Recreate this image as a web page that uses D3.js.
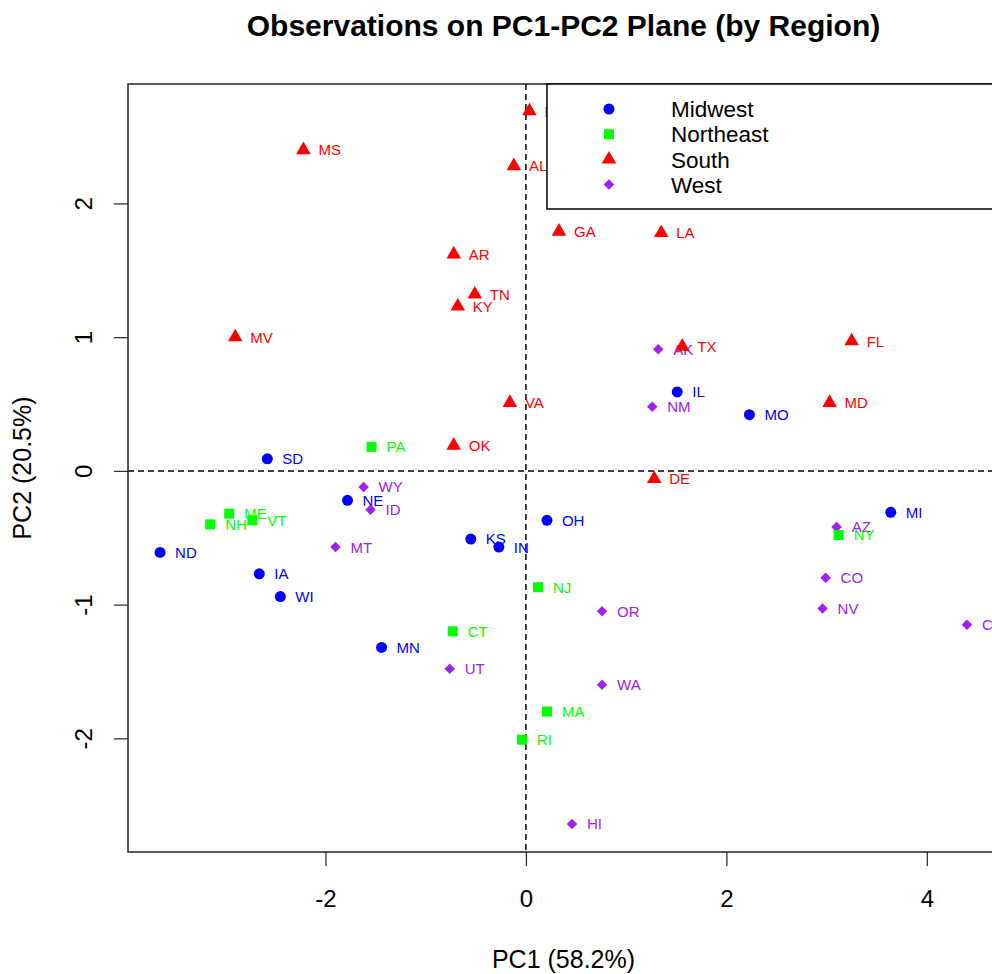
<!DOCTYPE html>
<html>
<head>
<meta charset="utf-8">
<script src="https://cdn.jsdelivr.net/npm/d3@7"></script>
<style>
  body { margin: 0; background: #fff; }
  svg { font-family: "Liberation Sans", Arial, sans-serif; display: block; }
</style>
</head>
<body>
<div id="plot"></div>
<script>
// data, states in row order (alphabetical by state name)
const states = ["AL","AK","AZ","AR","CA","CO","CT","DE","FL","GA","HI","ID","IL","IN","IA","KS","KY","LA","ME","MD",
  "MA","MI","MN","MS","MO","MT","NE","NV","NH","NJ","NM","NY","NC","ND","OH","OK","OR","PA","RI","SD",
  "TN","TX","UT","VT","VA","WA","MV","WI","WY"];
const pc1 = [-0.12, 1.32, 3.10, -0.72, 4.40, 2.99, -0.73, 1.28, 3.25, 0.33, 0.46, -1.55, 1.51, -0.27, -2.66, -0.55, -0.68, 1.35, -2.96, 3.03,
  0.21, 3.64, -1.44, -2.22, 2.23, -1.90, -1.78, 2.96, -3.15, 0.12, 1.26, 3.12, 0.035, -3.65, 0.21, -0.72, 0.76, -1.54, -0.04, -2.58,
  -0.51, 1.56, -0.76, -2.73, -0.16, 0.76, -2.90, -2.45, -1.62];
const pc2 = [2.28, 0.91, -0.42, 1.62, -1.15, -0.80, -1.20, -0.06, 0.97, 1.79, -2.64, -0.29, 0.59, -0.57, -0.77, -0.51, 1.23, 1.78, -0.32, 0.51,
  -1.80, -0.31, -1.32, 2.40, 0.42, -0.57, -0.22, -1.03, -0.40, -0.87, 0.48, -0.48, 2.69, -0.61, -0.37, 0.19, -1.05, 0.18, -2.01, 0.09,
  1.32, 0.93, -1.48, -0.37, 0.51, -1.60, 1.00, -0.94, -0.12];
const region = ["South","West","West","South","West","West","Northeast","South","South","South","West","West","Midwest","Midwest","Midwest","Midwest","South","South","Northeast","South",
  "Northeast","Midwest","Midwest","South","Midwest","West","Midwest","West","Northeast","Northeast","West","Northeast","South","Midwest","Midwest","South","West","Northeast","Northeast","Midwest",
  "South","South","West","Northeast","South","West","South","Midwest","West"];

const regions = ["Midwest", "Northeast", "South", "West"];
const xTicks = [-2, 0, 2, 4];
const yTicks = [-2, -1, 0, 1, 2];

const data = states.map((s, i) => ({ state: s, pc1: pc1[i], pc2: pc2[i], region: region[i] }));

// layout
const W = 992, H = 974;
const margin = { top: 84, right: -7, bottom: 122, left: 128 };
const width = W - margin.left - margin.right,
      height = H - margin.top - margin.bottom;

const svg = d3.select("#plot").append("svg")
    .attr("width", W)
    .attr("height", H);

const g = svg.append("g")
    .attr("transform", `translate(${margin.left},${margin.top})`);

const x = d3.scaleLinear().domain([-3.97, 4.72]).range([0, width]);
const y = d3.scaleLinear().domain([-2.85, 2.893]).range([height, 0]);

const color = d3.scaleOrdinal().domain(regions).range(["#0000FF", "#00FF00", "#FF0000", "#A020F0"]);

// marker shapes like R pch 16, 15, 17, 18
const shape = {
  Midwest: d3.symbol().type(d3.symbolCircle).size(95)(),
  Northeast: d3.symbol().type(d3.symbolSquare).size(100)(),
  South: d3.symbol().type(d3.symbolTriangle).size(92)(),
  West: d3.symbol().type(d3.symbolSquare).size(55)()
};
const rot = r => r === "West" ? " rotate(45)" : "";

// reference lines
g.append("line")
    .attr("x1", x(0)).attr("x2", x(0))
    .attr("y1", 0).attr("y2", height)
    .attr("stroke", "#000").attr("stroke-width", 1.5).attr("stroke-dasharray", "6,4");
g.append("line")
    .attr("x1", 0).attr("x2", width)
    .attr("y1", y(0)).attr("y2", y(0))
    .attr("stroke", "#000").attr("stroke-width", 1.5).attr("stroke-dasharray", "6,4");

// labels first, then points on top
g.selectAll(".lab")
  .data(data)
  .enter().append("text")
    .attr("class", "lab")
    .attr("x", d => x(d.pc1) + 15)
    .attr("y", d => y(d.pc2))
    .attr("dy", "0.36em")
    .attr("fill", d => color(d.region))
    .style("font-size", "15px")
    .text(d => d.state);

g.selectAll(".pt")
  .data(data)
  .enter().append("path")
    .attr("class", "pt")
    .attr("d", d => shape[d.region])
    .attr("transform", d => `translate(${x(d.pc1)},${y(d.pc2)})` + rot(d.region))
    .attr("fill", d => color(d.region));

// axes (hyphen minus like R)
const fmt = d => String(d);
const xAxis = g.append("g")
    .attr("transform", `translate(0,${height})`)
    .call(d3.axisBottom(x).tickValues(xTicks).tickSize(14).tickPadding(24).tickFormat(fmt));
xAxis.select(".domain").remove();
xAxis.selectAll("text").style("font-size", "24px").attr("fill", "#000");
xAxis.selectAll("line").attr("stroke", "#333").attr("stroke-width", 1.3);

const yAxis = g.append("g")
    .call(d3.axisLeft(y).tickValues(yTicks).tickSize(14).tickFormat(fmt));
yAxis.select(".domain").remove();
yAxis.selectAll("line").attr("stroke", "#333").attr("stroke-width", 1.3);
yAxis.selectAll("text")
    .attr("transform", "rotate(-90)")
    .attr("x", 0).attr("y", -36).attr("dy", 0)
    .attr("text-anchor", "middle")
    .attr("fill", "#000")
    .style("font-size", "24px");

// plot box
g.append("rect")
    .attr("width", width).attr("height", height)
    .attr("fill", "none").attr("stroke", "#222").attr("stroke-width", 1.5);

// legend (white box drawn over points)
const legend = g.append("g").attr("transform", `translate(${x(0.21)},0)`);
legend.append("rect")
    .attr("width", 470).attr("height", 125)
    .attr("fill", "#fff").attr("stroke", "#000").attr("stroke-width", 1.5);
regions.forEach((r, i) => {
  const ly = 25 + i * 25.2;
  legend.append("path")
      .attr("d", shape[r])
      .attr("transform", `translate(62,${ly})` + rot(r))
      .attr("fill", color(r));
  legend.append("text")
      .attr("x", 124).attr("y", ly).attr("dy", "0.36em")
      .style("font-size", "22.5px")
      .text(r);
});

// titles
svg.append("text")
    .attr("x", margin.left + width / 2).attr("y", 36)
    .attr("text-anchor", "middle")
    .style("font-size", "30px").style("font-weight", "bold")
    .text("Observations on PC1-PC2 Plane (by Region)");

svg.append("text")
    .attr("x", margin.left + width / 2).attr("y", 968)
    .attr("text-anchor", "middle")
    .style("font-size", "25px")
    .text("PC1 (58.2%)");

svg.append("text")
    .attr("transform", `translate(31,${margin.top + height / 2}) rotate(-90)`)
    .attr("text-anchor", "middle")
    .style("font-size", "25px")
    .text("PC2 (20.5%)");
</script>
</body>
</html>
